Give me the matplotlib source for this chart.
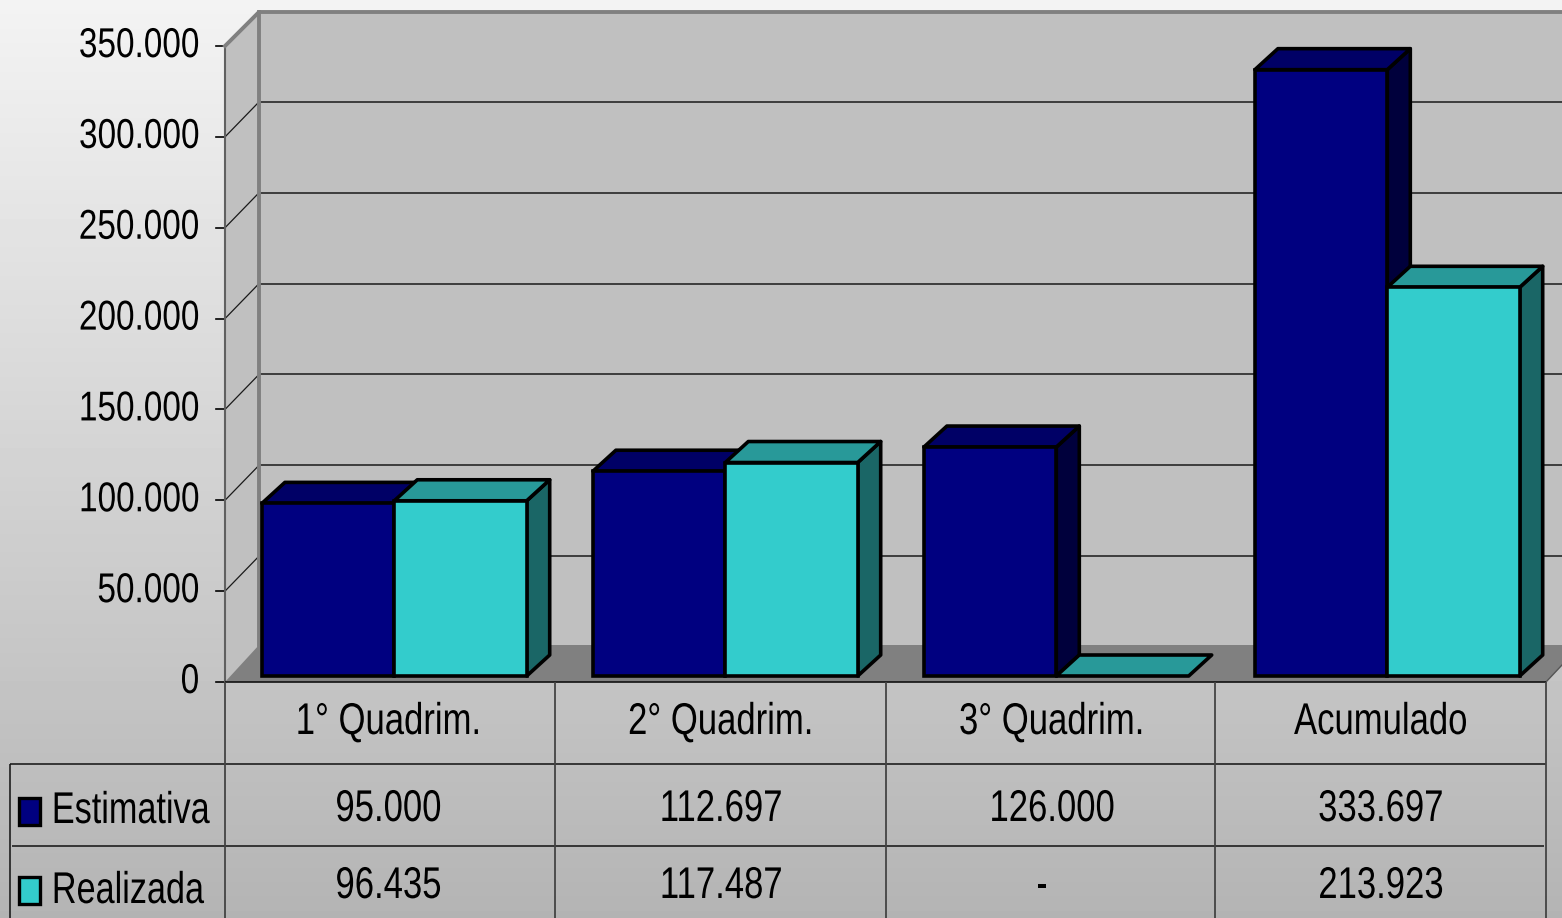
import numpy as np
import matplotlib
matplotlib.use("Agg")
import matplotlib.pyplot as plt
from matplotlib.patheffects import AbstractPathEffect
from matplotlib.transforms import Affine2D

categories = ["1° Quadrim.", "2° Quadrim.", "3° Quadrim.", "Acumulado"]
estimativa = [95000, 112697, 126000, 333697]
realizada = [96435, 117487, 0, 213923]
y_ticks = [0, 50000, 100000, 150000, 200000, 250000, 300000, 350000]

W, H = 1562, 918
px_per_cat = 331.0
px_per_val = 0.001817
bar_w = 0.4
base_px = 676          # baseline of the bars, from the top of the picture
group0_px = 394.3      # centre of the first group
DX, DY = 23, 21        # depth of a bar

plt.rcParams['font.family'] = ['Liberation Sans', 'DejaVu Sans']


class Narrow(AbstractPathEffect):
    """squeeze a text sideways, no narrow font is installed"""

    def __init__(self, sx, ha):
        super().__init__()
        self.sx = sx
        self.ha = ha

    def draw_path(self, renderer, gc, tpath, affine, rgbFace=None):
        box = tpath.get_extents(affine)
        pivot = {'left': box.x0, 'right': box.x1, 'center': (box.x0 + box.x1) / 2}[self.ha]
        squeeze = Affine2D().translate(-pivot, 0).scale(self.sx, 1).translate(pivot, 0)
        renderer.draw_path(gc, tpath, affine + squeeze, rgbFace)


def fmt(v):
    # brazilian thousands separator
    return f"{v:,}".replace(",", ".")


fig = plt.figure(figsize=(W / 100, H / 100), dpi=100)

bg = fig.add_axes([0, 0, 1, 1], zorder=0)
bg.imshow(np.linspace(243, 180, 256).reshape(-1, 1), cmap='gray', vmin=0, vmax=255,
          aspect='auto', extent=[0, 1, 0, 1])
bg.axis('off')

ax = fig.add_axes([0, 0, 1, 1], zorder=1)
ax.patch.set_visible(False)
ax.axis('off')
ax.set_xlim(-group0_px / px_per_cat, (W - group0_px) / px_per_cat)
ax.set_ylim(-(H - base_px) / px_per_val, base_px / px_per_val)

# picture pixels, y measured from the top
pix = Affine2D().scale(1, -1).translate(0, H)
front = ax.transData + Affine2D().translate(0, -6)
back = ax.transData + Affine2D().translate(0, 29)


def label(x, y, s, ha='center', fs=32, sx=0.78):
    ax.text(x, y, s, ha=ha, va='baseline', fontsize=fs, transform=pix, zorder=50,
            path_effects=[Narrow(sx, ha)])


# walls and floor
ax.fill([225, 259, 259, 225], [46, 12, 645, 682], color='#c0c0c0', transform=pix, zorder=1, lw=0)
ax.fill([259, 1562, 1562, 259], [12, 12, 645, 645], color='#c0c0c0', transform=pix, zorder=1, lw=0)
ax.fill([225, 259, 1562, 1562, 1546], [682, 645, 645, 665, 682], color='#808080',
        transform=pix, zorder=1, lw=0)

# gridlines on the back wall, and their diagonal on the side wall
for v in y_ticks[1:-1]:
    y_front = front.transform((0, v))[1]
    y_back = back.transform((0, v))[1]
    ax.plot([259, W], [H - y_back] * 2, color='#1a1a1a', lw=1.1, transform=pix, zorder=2)
    ax.plot([225, 259], [H - y_front, H - y_back], color='#1a1a1a', lw=0.9, transform=pix, zorder=2)
for v in y_ticks:
    y_front = front.transform((0, v))[1]
    ax.plot([216, 225], [H - y_front] * 2, color='black', lw=1.2, transform=pix, zorder=3)
    label(199.5, H - y_front + 11, fmt(v), ha='right', fs=30, sx=0.80)

ax.plot([225, 225], [46, 682], color='#606060', lw=1.5, transform=pix, zorder=3)
ax.plot([225, 259, W], [46, 12, 12], color='#808080', lw=2.8, transform=pix, zorder=3)
ax.plot([259, 259], [12, 645], color='#808080', lw=2.8, transform=pix, zorder=3)
ax.plot([1546, 1562], [682, 665], color='#555555', lw=1.0, transform=pix, zorder=3)

# bars, back faces first so the next bar covers them
series = [(estimativa, -bar_w / 2, '#000080', '#000066', '#00003c'),
          (realizada, bar_w / 2, '#33cccc', '#289999', '#1a6666')]
to_data = ax.transData.inverted().transform
d = to_data((DX, DY)) - to_data((0, 0))
z = 10
for k in range(len(categories)):
    for vals, off, c_front, c_top, c_side in series:
        v = vals[k]
        l, r = k + off - bar_w / 2, k + off + bar_w / 2
        if v > 0:
            ax.fill([r, r + d[0], r + d[0], r], [0, d[1], v + d[1], v], facecolor=c_side,
                    edgecolor='black', lw=2.6, zorder=z, joinstyle='round')
        ax.fill([l, l + d[0], r + d[0], r], [v, v + d[1], v + d[1], v], facecolor=c_top,
                edgecolor='black', lw=2.6, zorder=z, joinstyle='round')
        if v > 0:
            ax.bar(k + off, v, bar_w, color=c_front, edgecolor='black', lw=2.6, zorder=z + 0.5)
        z += 1

# data table below the chart
col_x = [225, 555, 886, 1215, 1546]
col_mid = [388.5, 721, 1052, 1381]
row_y = [682, 764, 846]
line = dict(transform=pix, zorder=4, solid_capstyle='butt')
ax.plot([225, 1546], [row_y[0]] * 2, color='#111111', lw=1.2, **line)
ax.plot([10, 1546], [row_y[1]] * 2, color='#111111', lw=1.1, **line)
ax.plot([12, 1544], [row_y[2]] * 2, color='#111111', lw=1.1, **line)
ax.plot([10, 10], [row_y[1], H], color='#111111', lw=1.1, **line)
for x in col_x:
    ax.plot([x, x], [row_y[0], H], color='#444444', lw=1.3, **line)

for i in range(len(categories)):
    cx = col_mid[i]
    label(cx, 734, categories[i])
    label(cx, 821, fmt(estimativa[i]))
    if realizada[i]:
        label(cx, 898, fmt(realizada[i]))
    else:
        label(cx - 10, 898, "-")

# legend keys live in the first column of the table
for name, color, y_key, y_txt in [("Estimativa", '#000080', 798, 823), ("Realizada", '#33cccc', 877, 903)]:
    ax.fill([19, 40, 40, 19], [y_key, y_key, y_key + 27, y_key + 27], facecolor=color,
            edgecolor='black', lw=2.4, transform=pix, zorder=5)
    label(51, y_txt, name, ha='left', sx=0.77)

fig.savefig("out.png", dpi=100)
